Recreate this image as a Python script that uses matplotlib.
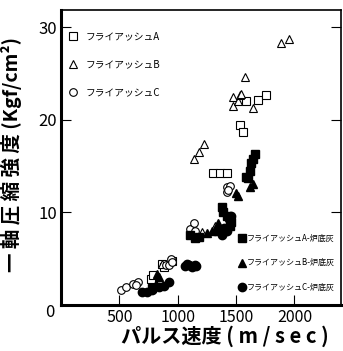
import matplotlib
matplotlib.use('Agg')
import matplotlib.pyplot as plt

plt.rcParams['font.family'] = ['Noto Sans CJK JP', 'DejaVu Sans']

# フライアッシュA (open squares)
a_x = [768, 790, 867, 881, 952, 1305, 1362, 1418, 1531, 1559, 1588, 1686, 1757]
a_y = [2.8, 3.2, 4.4, 4.1, 4.8, 14.3, 14.3, 14.3, 19.5, 18.7, 22.0, 22.2, 22.7]
# フライアッシュB (open triangles)
b_x = [867, 1136, 1178, 1229, 1206, 1319, 1475, 1475, 1517, 1531, 1545, 1573, 1644, 1884, 1955]
b_y = [4.4, 15.8, 16.5, 17.4, 7.9, 8.5, 22.5, 21.5, 22.0, 22.7, 22.8, 24.6, 21.3, 28.3, 28.8]
# フライアッシュC (open circles)
c_x = [514, 557, 613, 655, 640, 895, 924, 938, 952, 1107, 1136, 1150, 1418, 1418, 1446, 1432]
c_y = [1.6, 1.95, 2.3, 2.5, 2.2, 4.3, 4.3, 5.0, 4.7, 8.2, 8.9, 8.0, 12.8, 12.2, 12.9, 12.4]
# フライアッシュA-炉底灰 (filled squares)
fa_x = [782, 1107, 1150, 1178, 1347, 1376, 1390, 1390, 1418, 1446, 1460, 1588, 1602, 1616, 1630, 1644, 1658]
fa_y = [1.8, 7.6, 7.2, 7.4, 8.0, 10.6, 10.1, 8.0, 9.6, 8.5, 9.0, 13.8, 13.7, 14.5, 15.3, 15.8, 16.3]
# フライアッシュB-炉底灰 (filled triangles)
fb_x = [811, 825, 839, 1248, 1291, 1347, 1503, 1516, 1616, 1644]
fb_y = [2.3, 3.4, 3.0, 7.8, 8.0, 8.9, 12.1, 11.8, 12.8, 13.1]
# フライアッシュC-炉底灰 (filled circles)
fc_x = [697, 740, 782, 839, 881, 924, 1065, 1079, 1093, 1121, 1150, 1160, 1376, 1400, 1420, 1440, 1460]
fc_y = [1.4, 1.4, 1.6, 1.95, 2.1, 2.5, 4.2, 4.4, 4.3, 4.1, 4.3, 4.2, 7.6, 8.3, 8.0, 9.3, 9.6]

labels = ['フライアッシュA', 'フライアッシュB', 'フライアッシュC',
          'フライアッシュA-炉底灰', 'フライアッシュB-炉底灰', 'フライアッシュC-炉底灰']

fig = plt.figure(figsize=(3.43, 3.51), dpi=100)
ax = fig.add_axes([0.178, 0.131, 0.816, 0.841])

ms = 5.5
open_kw = dict(linestyle='none', markerfacecolor='white', markeredgecolor='black',
               markeredgewidth=0.8, markersize=ms)
fill_kw = dict(linestyle='none', color='black', markersize=ms + 0.5)

ax.plot(a_x, a_y, 's', **open_kw)
ax.plot(b_x, b_y, '^', **open_kw)
ax.plot(c_x, c_y, 'o', **open_kw)
ax.plot(fa_x, fa_y, 's', **fill_kw)
ax.plot(fb_x, fb_y, '^', **fill_kw)
ax.plot(fc_x, fc_y, 'o', **fill_kw)

ax.set_xlim(0, 2398)
ax.set_ylim(0, 31.9)
ax.set_xticks([500, 1000, 1500, 2000])
ax.set_xticklabels(['500', '1000', '1500', '2000'])
ax.set_yticks([10, 20, 30])
ax.set_yticklabels(['10', '20', '30'])
ax.tick_params(axis='both', direction='in', length=7, width=0.8, labelsize=12, pad=3)
ax.tick_params(axis='x', labelsize=11.5)
ax.tick_params(axis='y', right=True)
for s in ax.spines.values():
    s.set_linewidth(1.2)
ax.spines['left'].set_linewidth(2.2)
ax.spines['bottom'].set_linewidth(2.2)
ax.text(-0.04, -0.024, '0', transform=ax.transAxes, fontsize=12, ha='center', va='center')

# legend, open markers (upper left)
leg_open = [('s', 0), ('^', 1), ('o', 2)]
for i, (m, k) in enumerate(leg_open):
    yy = 0.91 - i * 0.094
    ax.plot([0.043], [yy], m, transform=ax.transAxes, **open_kw)
    ax.text(0.088, yy, labels[k], transform=ax.transAxes, fontsize=7, va='center')

# legend, filled markers (lower right)
leg_fill = [('s', 3), ('^', 4), ('o', 5)]
for i, (m, k) in enumerate(leg_fill):
    yy = 0.226 - i * 0.083
    ax.plot([0.645], [yy], m, transform=ax.transAxes, **fill_kw)
    ax.text(0.663, yy, labels[k], transform=ax.transAxes, fontsize=5.8, va='center')

ax.set_xlabel('パルス速度 ( m / s e c )', fontsize=14.5, fontweight='bold')
ax.xaxis.set_label_coords(0.585, -0.068)
ax.set_ylabel('一 軸 圧 縮 強 度 (Kgf/cm²)', fontsize=14, fontweight='bold')
ax.yaxis.set_label_coords(-0.14, 0.51)

fig.savefig('out.png', dpi=100)
